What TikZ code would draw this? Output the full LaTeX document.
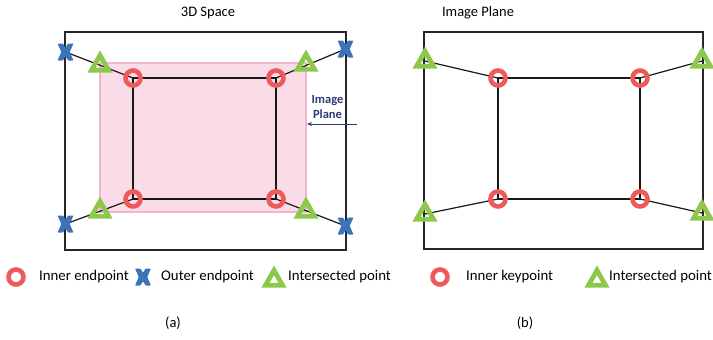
\documentclass[tikz,border=0pt]{standalone}
\usepackage{fontspec}
\setmainfont{Carlito}
\usetikzlibrary{arrows.meta}
\definecolor{ringred}{HTML}{EE5A5A}
\definecolor{trigreen}{HTML}{8CC84B}
\definecolor{xblue}{HTML}{3B74B8}
\definecolor{pinkfill}{HTML}{FADCE8}
\definecolor{pinkline}{HTML}{F3B5CC}
\definecolor{navy}{HTML}{2E3A7A}
\tikzset{
  ring/.pic={\draw[ringred,line width=4.6pt] (0,0) circle (7.5);},
  tri/.pic={\fill[trigreen,even odd rule] (0,-14.5) -- (12.5,7.5) -- (-12.5,7.5) -- cycle
             (0,-4.8) -- (4.5,2.8) -- (-4.5,2.8) -- cycle;},
  xmark/.pic={\fill[xblue,rounded corners=0.8pt] (-8,-8.5) -- (-2.6,-8.5) -- (0,-4.2) -- (2.6,-8.5) -- (8,-8.5) -- (4.2,0) -- (8,8.5) -- (2.6,8.5) -- (0,4.2) -- (-2.6,8.5) -- (-8,8.5) -- (-4.2,0) -- cycle;},
  frame/.style={draw=black!85,line width=1.3pt},
  link/.style={draw=black!90,line width=1.2pt},
  lbl/.style={font=\fontsize{14.8}{17}\selectfont,anchor=west,inner sep=0pt},
  ttl/.style={font=\fontsize{14.5}{16}\selectfont,inner sep=0pt},
}
\begin{document}
\begin{tikzpicture}[x=1pt,y=-1pt]
\useasboundingbox[fill=white] (0,0) rectangle (713,340);
% ---------- left panel ----------
\node[ttl] (t1) at (208,13) {3D Space};
\node[frame,minimum width=281pt,minimum height=218pt,inner sep=0pt] (outerA) at (205.5,141) {};
\node[draw=pinkline,fill=pinkfill,line width=2pt,minimum width=206pt,minimum height=149pt,inner sep=0pt] (plane) at (203,137.5) {};
\coordinate (a1) at (133,78);
\coordinate (a2) at (276,78);
\coordinate (a3) at (276,199);
\coordinate (a4) at (133,199);
\draw[link] (a1) -- (a2) -- (a3) -- (a4) -- cycle;
\coordinate (x1) at (65.5,52);
\coordinate (x2) at (345.5,49);
\coordinate (x3) at (345.5,226);
\coordinate (x4) at (65.5,224);
\draw[link] (x1) -- (a1);
\draw[link] (x2) -- (a2);
\draw[link] (x3) -- (a3);
\draw[link] (x4) -- (a4);
\foreach \c in {a1,a2,a3,a4} \pic at (\c) {ring};
\pic at (100,65) {tri};
\pic at (306,64) {tri};
\pic at (306,211) {tri};
\pic at (100,211) {tri};
\foreach \c in {x1,x2,x3,x4} \pic at (\c) {xmark};
\node[font=\bfseries\fontsize{12.5}{15}\selectfont,text=navy,align=center,inner sep=0pt] (ipl) at (327.5,107) {Image\\Plane};
\coordinate (arrS) at (357,124);
\draw[navy,line width=0.9pt,-{Stealth[length=5pt,width=4pt]}] (arrS) -- (plane.east |- arrS);
% legend a
\pic at (16,277) {ring};
\node[lbl] (l1) at (39,277) {Inner endpoint};
\pic at (143,277) {xmark};
\node[lbl] (l2) at (161,277) {Outer endpoint};
\pic at (274,280) {tri};
\node[lbl] (l3) at (288,277) {Intersected point};
\node[ttl] (ca) at (173,323) {(a)};
% ---------- right panel ----------
\node[ttl] (t2) at (478,13) {Image Plane};
\node[frame,minimum width=279pt,minimum height=217pt,inner sep=0pt] (outerB) at (563.5,140.5) {};
\coordinate (b1) at (498,78);
\coordinate (b2) at (640,78);
\coordinate (b3) at (640,199);
\coordinate (b4) at (498,199);
\draw[link] (b1) -- (b2) -- (b3) -- (b4) -- cycle;
\coordinate (g1) at (425,61);
\coordinate (g2) at (702,61);
\coordinate (g3) at (702,213);
\coordinate (g4) at (425,214);
\draw[link] (g1) -- (b1);
\draw[link] (g2) -- (b2);
\draw[link] (g3) -- (b3);
\draw[link] (g4) -- (b4);
\foreach \c in {b1,b2,b3,b4} \pic at (\c) {ring};
\foreach \c in {g1,g2,g3,g4} \pic at (\c) {tri};
% legend b
\pic at (440,277) {ring};
\node[lbl] (l4) at (466,277) {Inner keypoint};
\pic at (597,280) {tri};
\node[lbl] (l5) at (609,277) {Intersected point};
\node[ttl] (cb) at (525,323) {(b)};
\end{tikzpicture}
\end{document}
